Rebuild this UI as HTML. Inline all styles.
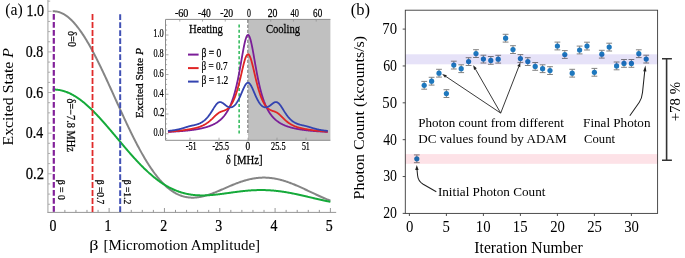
<!DOCTYPE html><html><head><meta charset="utf-8"><style>html,body{margin:0;padding:0;background:#fff;overflow:hidden}svg{display:block;will-change:transform}text{font-family:"Liberation Serif",serif}</style></head><body>
<svg width="685" height="258" viewBox="0 0 685 258">
<line x1="47.9" y1="0" x2="47.9" y2="212.8" stroke="#b0b0b0" stroke-width="1.2"/>
<line x1="47.5" y1="212.4" x2="336.2" y2="212.4" stroke="#969696" stroke-width="1"/>
<line x1="48" y1="204.25" x2="50.2" y2="204.25" stroke="#a0a0a0" stroke-width="0.8"/>
<line x1="48" y1="194.09" x2="50.2" y2="194.09" stroke="#a0a0a0" stroke-width="0.8"/>
<line x1="48" y1="183.94" x2="50.2" y2="183.94" stroke="#a0a0a0" stroke-width="0.8"/>
<line x1="48" y1="173.78" x2="51.6" y2="173.78" stroke="#a0a0a0" stroke-width="0.8"/>
<line x1="48" y1="163.62" x2="50.2" y2="163.62" stroke="#a0a0a0" stroke-width="0.8"/>
<line x1="48" y1="153.47" x2="50.2" y2="153.47" stroke="#a0a0a0" stroke-width="0.8"/>
<line x1="48" y1="143.31" x2="50.2" y2="143.31" stroke="#a0a0a0" stroke-width="0.8"/>
<line x1="48" y1="133.16" x2="51.6" y2="133.16" stroke="#a0a0a0" stroke-width="0.8"/>
<line x1="48" y1="123.01" x2="50.2" y2="123.01" stroke="#a0a0a0" stroke-width="0.8"/>
<line x1="48" y1="112.85" x2="50.2" y2="112.85" stroke="#a0a0a0" stroke-width="0.8"/>
<line x1="48" y1="102.69" x2="50.2" y2="102.69" stroke="#a0a0a0" stroke-width="0.8"/>
<line x1="48" y1="92.54" x2="51.6" y2="92.54" stroke="#a0a0a0" stroke-width="0.8"/>
<line x1="48" y1="82.38" x2="50.2" y2="82.38" stroke="#a0a0a0" stroke-width="0.8"/>
<line x1="48" y1="72.23" x2="50.2" y2="72.23" stroke="#a0a0a0" stroke-width="0.8"/>
<line x1="48" y1="62.08" x2="50.2" y2="62.08" stroke="#a0a0a0" stroke-width="0.8"/>
<line x1="48" y1="51.92" x2="51.6" y2="51.92" stroke="#a0a0a0" stroke-width="0.8"/>
<line x1="48" y1="41.76" x2="50.2" y2="41.76" stroke="#a0a0a0" stroke-width="0.8"/>
<line x1="48" y1="31.61" x2="50.2" y2="31.61" stroke="#a0a0a0" stroke-width="0.8"/>
<line x1="48" y1="21.45" x2="50.2" y2="21.45" stroke="#a0a0a0" stroke-width="0.8"/>
<line x1="48" y1="11.30" x2="51.6" y2="11.30" stroke="#a0a0a0" stroke-width="0.8"/>
<line x1="48" y1="1.15" x2="50.2" y2="1.15" stroke="#a0a0a0" stroke-width="0.8"/>
<line x1="53.80" y1="212.3" x2="53.80" y2="208.0" stroke="#8c8c8c" stroke-width="0.9"/>
<line x1="64.86" y1="212.3" x2="64.86" y2="209.9" stroke="#8c8c8c" stroke-width="0.9"/>
<line x1="75.93" y1="212.3" x2="75.93" y2="209.9" stroke="#8c8c8c" stroke-width="0.9"/>
<line x1="86.99" y1="212.3" x2="86.99" y2="209.9" stroke="#8c8c8c" stroke-width="0.9"/>
<line x1="98.06" y1="212.3" x2="98.06" y2="209.9" stroke="#8c8c8c" stroke-width="0.9"/>
<line x1="109.12" y1="212.3" x2="109.12" y2="208.0" stroke="#8c8c8c" stroke-width="0.9"/>
<line x1="120.18" y1="212.3" x2="120.18" y2="209.9" stroke="#8c8c8c" stroke-width="0.9"/>
<line x1="131.25" y1="212.3" x2="131.25" y2="209.9" stroke="#8c8c8c" stroke-width="0.9"/>
<line x1="142.31" y1="212.3" x2="142.31" y2="209.9" stroke="#8c8c8c" stroke-width="0.9"/>
<line x1="153.38" y1="212.3" x2="153.38" y2="209.9" stroke="#8c8c8c" stroke-width="0.9"/>
<line x1="164.44" y1="212.3" x2="164.44" y2="208.0" stroke="#8c8c8c" stroke-width="0.9"/>
<line x1="175.50" y1="212.3" x2="175.50" y2="209.9" stroke="#8c8c8c" stroke-width="0.9"/>
<line x1="186.57" y1="212.3" x2="186.57" y2="209.9" stroke="#8c8c8c" stroke-width="0.9"/>
<line x1="197.63" y1="212.3" x2="197.63" y2="209.9" stroke="#8c8c8c" stroke-width="0.9"/>
<line x1="208.70" y1="212.3" x2="208.70" y2="209.9" stroke="#8c8c8c" stroke-width="0.9"/>
<line x1="219.76" y1="212.3" x2="219.76" y2="208.0" stroke="#8c8c8c" stroke-width="0.9"/>
<line x1="230.82" y1="212.3" x2="230.82" y2="209.9" stroke="#8c8c8c" stroke-width="0.9"/>
<line x1="241.89" y1="212.3" x2="241.89" y2="209.9" stroke="#8c8c8c" stroke-width="0.9"/>
<line x1="252.95" y1="212.3" x2="252.95" y2="209.9" stroke="#8c8c8c" stroke-width="0.9"/>
<line x1="264.02" y1="212.3" x2="264.02" y2="209.9" stroke="#8c8c8c" stroke-width="0.9"/>
<line x1="275.08" y1="212.3" x2="275.08" y2="208.0" stroke="#8c8c8c" stroke-width="0.9"/>
<line x1="286.14" y1="212.3" x2="286.14" y2="209.9" stroke="#8c8c8c" stroke-width="0.9"/>
<line x1="297.21" y1="212.3" x2="297.21" y2="209.9" stroke="#8c8c8c" stroke-width="0.9"/>
<line x1="308.27" y1="212.3" x2="308.27" y2="209.9" stroke="#8c8c8c" stroke-width="0.9"/>
<line x1="319.34" y1="212.3" x2="319.34" y2="209.9" stroke="#8c8c8c" stroke-width="0.9"/>
<line x1="330.40" y1="212.3" x2="330.40" y2="208.0" stroke="#8c8c8c" stroke-width="0.9"/>
<path d="M52.69,11.34 L53.25,11.31 L53.81,11.30 L54.36,11.31 L54.92,11.34 L55.48,11.38 L56.03,11.44 L56.59,11.52 L57.15,11.62 L57.70,11.74 L58.26,11.87 L58.82,12.03 L59.37,12.19 L59.93,12.38 L60.48,12.59 L61.04,12.81 L61.60,13.05 L62.15,13.31 L62.71,13.58 L63.27,13.87 L63.82,14.18 L64.38,14.51 L64.94,14.86 L65.49,15.22 L66.05,15.59 L66.61,15.99 L67.16,16.40 L67.72,16.83 L68.28,17.28 L68.83,17.74 L69.39,18.22 L69.95,18.71 L70.50,19.22 L71.06,19.75 L71.62,20.29 L72.17,20.85 L72.73,21.43 L73.29,22.02 L73.84,22.63 L74.40,23.25 L74.95,23.88 L75.51,24.54 L76.07,25.20 L76.62,25.89 L77.18,26.58 L77.74,27.29 L78.29,28.02 L78.85,28.76 L79.41,29.51 L79.96,30.28 L80.52,31.06 L81.08,31.86 L81.63,32.67 L82.19,33.49 L82.75,34.33 L83.30,35.17 L83.86,36.03 L84.42,36.91 L84.97,37.79 L85.53,38.69 L86.09,39.60 L86.64,40.52 L87.20,41.46 L87.75,42.40 L88.31,43.36 L88.87,44.32 L89.42,45.30 L89.98,46.29 L90.54,47.29 L91.09,48.29 L91.65,49.31 L92.21,50.34 L92.76,51.38 L93.32,52.43 L93.88,53.48 L94.43,54.55 L94.99,55.62 L95.55,56.70 L96.10,57.79 L96.66,58.89 L97.22,60.00 L97.77,61.11 L98.33,62.23 L98.89,63.36 L99.44,64.49 L100.00,65.63 L100.55,66.78 L101.11,67.93 L101.67,69.09 L102.22,70.26 L102.78,71.43 L103.34,72.61 L103.89,73.79 L104.45,74.97 L105.01,76.16 L105.56,77.36 L106.12,78.55 L106.68,79.76 L107.23,80.96 L107.79,82.17 L108.35,83.38 L108.90,84.60 L109.46,85.81 L110.02,87.03 L110.57,88.25 L111.13,89.48 L111.69,90.70 L112.24,91.93 L112.80,93.16 L113.35,94.39 L113.91,95.62 L114.47,96.85 L115.02,98.08 L115.58,99.30 L116.14,100.53 L116.69,101.76 L117.25,102.99 L117.81,104.22 L118.36,105.45 L118.92,106.67 L119.48,107.89 L120.03,109.12 L120.59,110.34 L121.15,111.55 L121.70,112.77 L122.26,113.98 L122.82,115.19 L123.37,116.40 L123.93,117.60 L124.49,118.80 L125.04,119.99 L125.60,121.18 L126.16,122.37 L126.71,123.55 L127.27,124.73 L127.82,125.90 L128.38,127.07 L128.94,128.24 L129.49,129.39 L130.05,130.55 L130.61,131.69 L131.16,132.83 L131.72,133.97 L132.28,135.09 L132.83,136.22 L133.39,137.33 L133.95,138.44 L134.50,139.54 L135.06,140.63 L135.62,141.72 L136.17,142.80 L136.73,143.87 L137.29,144.93 L137.84,145.99 L138.40,147.03 L138.96,148.07 L139.51,149.10 L140.07,150.12 L140.62,151.13 L141.18,152.14 L141.74,153.13 L142.29,154.12 L142.85,155.09 L143.41,156.06 L143.96,157.02 L144.52,157.97 L145.08,158.90 L145.63,159.83 L146.19,160.75 L146.75,161.66 L147.30,162.55 L147.86,163.44 L148.42,164.32 L148.97,165.18 L149.53,166.04 L150.09,166.88 L150.64,167.72 L151.20,168.54 L151.76,169.35 L152.31,170.15 L152.87,170.94 L153.42,171.72 L153.98,172.49 L154.54,173.24 L155.09,173.99 L155.65,174.72 L156.21,175.44 L156.76,176.15 L157.32,176.85 L157.88,177.54 L158.43,178.21 L158.99,178.88 L159.55,179.53 L160.10,180.17 L160.66,180.79 L161.22,181.41 L161.77,182.01 L162.33,182.61 L162.89,183.19 L163.44,183.76 L164.00,184.31 L164.56,184.86 L165.11,185.39 L165.67,185.91 L166.22,186.42 L166.78,186.91 L167.34,187.40 L167.89,187.87 L168.45,188.33 L169.01,188.78 L169.56,189.22 L170.12,189.65 L170.68,190.06 L171.23,190.46 L171.79,190.85 L172.35,191.23 L172.90,191.60 L173.46,191.95 L174.02,192.30 L174.57,192.63 L175.13,192.95 L175.69,193.26 L176.24,193.56 L176.80,193.85 L177.36,194.12 L177.91,194.39 L178.47,194.64 L179.02,194.89 L179.58,195.12 L180.14,195.34 L180.69,195.55 L181.25,195.75 L181.81,195.94 L182.36,196.12 L182.92,196.29 L183.48,196.44 L184.03,196.59 L184.59,196.73 L185.15,196.86 L185.70,196.97 L186.26,197.08 L186.82,197.18 L187.37,197.27 L187.93,197.35 L188.49,197.42 L189.04,197.48 L189.60,197.53 L190.16,197.57 L190.71,197.61 L191.27,197.63 L191.83,197.65 L192.38,197.66 L192.94,197.66 L193.49,197.65 L194.05,197.63 L194.61,197.61 L195.16,197.57 L195.72,197.53 L196.28,197.48 L196.83,197.43 L197.39,197.36 L197.95,197.29 L198.50,197.22 L199.06,197.13 L199.62,197.04 L200.17,196.94 L200.73,196.84 L201.29,196.73 L201.84,196.61 L202.40,196.49 L202.96,196.36 L203.51,196.23 L204.07,196.09 L204.63,195.94 L205.18,195.79 L205.74,195.63 L206.29,195.47 L206.85,195.31 L207.41,195.13 L207.96,194.96 L208.52,194.78 L209.08,194.60 L209.63,194.41 L210.19,194.22 L210.75,194.02 L211.30,193.82 L211.86,193.62 L212.42,193.41 L212.97,193.20 L213.53,192.99 L214.09,192.77 L214.64,192.56 L215.20,192.34 L215.76,192.11 L216.31,191.89 L216.87,191.66 L217.43,191.43 L217.98,191.20 L218.54,190.96 L219.09,190.73 L219.65,190.49 L220.21,190.26 L220.76,190.02 L221.32,189.78 L221.88,189.54 L222.43,189.30 L222.99,189.06 L223.55,188.81 L224.10,188.57 L224.66,188.33 L225.22,188.09 L225.77,187.85 L226.33,187.60 L226.89,187.36 L227.44,187.12 L228.00,186.88 L228.56,186.64 L229.11,186.40 L229.67,186.17 L230.23,185.93 L230.78,185.70 L231.34,185.46 L231.89,185.23 L232.45,185.00 L233.01,184.77 L233.56,184.54 L234.12,184.32 L234.68,184.10 L235.23,183.88 L235.79,183.66 L236.35,183.44 L236.90,183.23 L237.46,183.02 L238.02,182.82 L238.57,182.61 L239.13,182.41 L239.69,182.21 L240.24,182.02 L240.80,181.82 L241.36,181.64 L241.91,181.45 L242.47,181.27 L243.03,181.09 L243.58,180.92 L244.14,180.75 L244.70,180.58 L245.25,180.42 L245.81,180.26 L246.36,180.10 L246.92,179.95 L247.48,179.81 L248.03,179.66 L248.59,179.53 L249.15,179.39 L249.70,179.26 L250.26,179.14 L250.82,179.02 L251.37,178.90 L251.93,178.79 L252.49,178.69 L253.04,178.59 L253.60,178.49 L254.16,178.40 L254.71,178.31 L255.27,178.23 L255.83,178.15 L256.38,178.08 L256.94,178.01 L257.50,177.95 L258.05,177.89 L258.61,177.84 L259.16,177.80 L259.72,177.75 L260.28,177.72 L260.83,177.69 L261.39,177.66 L261.95,177.64 L262.50,177.62 L263.06,177.61 L263.62,177.61 L264.17,177.61 L264.73,177.61 L265.29,177.62 L265.84,177.64 L266.40,177.66 L266.96,177.68 L267.51,177.71 L268.07,177.75 L268.63,177.79 L269.18,177.84 L269.74,177.89 L270.30,177.94 L270.85,178.00 L271.41,178.07 L271.96,178.14 L272.52,178.22 L273.08,178.30 L273.63,178.38 L274.19,178.48 L274.75,178.57 L275.30,178.67 L275.86,178.78 L276.42,178.89 L276.97,179.00 L277.53,179.12 L278.09,179.24 L278.64,179.37 L279.20,179.50 L279.76,179.64 L280.31,179.78 L280.87,179.92 L281.43,180.07 L281.98,180.23 L282.54,180.39 L283.10,180.55 L283.65,180.71 L284.21,180.88 L284.76,181.06 L285.32,181.23 L285.88,181.41 L286.43,181.60 L286.99,181.79 L287.55,181.98 L288.10,182.17 L288.66,182.37 L289.22,182.57 L289.77,182.78 L290.33,182.99 L290.89,183.20 L291.44,183.41 L292.00,183.63 L292.56,183.85 L293.11,184.07 L293.67,184.30 L294.23,184.53 L294.78,184.76 L295.34,184.99 L295.90,185.22 L296.45,185.46 L297.01,185.70 L297.56,185.94 L298.12,186.18 L298.68,186.43 L299.23,186.68 L299.79,186.93 L300.35,187.18 L300.90,187.43 L301.46,187.68 L302.02,187.94 L302.57,188.19 L303.13,188.45 L303.69,188.71 L304.24,188.97 L304.80,189.23 L305.36,189.49 L305.91,189.75 L306.47,190.01 L307.03,190.27 L307.58,190.54 L308.14,190.80 L308.70,191.06 L309.25,191.33 L309.81,191.59 L310.37,191.85 L310.92,192.12 L311.48,192.38 L312.03,192.65 L312.59,192.91 L313.15,193.17 L313.70,193.43 L314.26,193.70 L314.82,193.96 L315.37,194.22 L315.93,194.48 L316.49,194.73 L317.04,194.99 L317.60,195.25 L318.16,195.50 L318.71,195.76 L319.27,196.01 L319.83,196.26 L320.38,196.51 L320.94,196.75 L321.50,197.00 L322.05,197.25 L322.61,197.49 L323.17,197.73 L323.72,197.97 L324.28,198.20 L324.83,198.44 L325.39,198.67 L325.95,198.90 L326.50,199.13 L327.06,199.35 L327.62,199.58 L328.17,199.80 L328.73,200.01 L329.29,200.23 L329.84,200.44 L330.40,200.65" fill="none" stroke="#858585" stroke-width="2"/>
<path d="M52.69,89.59 L53.25,89.58 L53.81,89.57 L54.36,89.58 L54.92,89.59 L55.48,89.62 L56.03,89.65 L56.59,89.69 L57.15,89.74 L57.70,89.80 L58.26,89.88 L58.82,89.95 L59.37,90.04 L59.93,90.14 L60.48,90.25 L61.04,90.37 L61.60,90.49 L62.15,90.63 L62.71,90.77 L63.27,90.92 L63.82,91.09 L64.38,91.26 L64.94,91.44 L65.49,91.63 L66.05,91.83 L66.61,92.03 L67.16,92.25 L67.72,92.48 L68.28,92.71 L68.83,92.95 L69.39,93.20 L69.95,93.46 L70.50,93.73 L71.06,94.01 L71.62,94.29 L72.17,94.59 L72.73,94.89 L73.29,95.20 L73.84,95.52 L74.40,95.85 L74.95,96.18 L75.51,96.52 L76.07,96.87 L76.62,97.23 L77.18,97.60 L77.74,97.97 L78.29,98.36 L78.85,98.75 L79.41,99.14 L79.96,99.55 L80.52,99.96 L81.08,100.38 L81.63,100.80 L82.19,101.24 L82.75,101.68 L83.30,102.12 L83.86,102.58 L84.42,103.04 L84.97,103.51 L85.53,103.98 L86.09,104.46 L86.64,104.95 L87.20,105.44 L87.75,105.94 L88.31,106.44 L88.87,106.95 L89.42,107.47 L89.98,107.99 L90.54,108.52 L91.09,109.05 L91.65,109.59 L92.21,110.14 L92.76,110.69 L93.32,111.24 L93.88,111.80 L94.43,112.37 L94.99,112.94 L95.55,113.51 L96.10,114.09 L96.66,114.67 L97.22,115.26 L97.77,115.85 L98.33,116.45 L98.89,117.04 L99.44,117.65 L100.00,118.26 L100.55,118.87 L101.11,119.48 L101.67,120.10 L102.22,120.72 L102.78,121.34 L103.34,121.97 L103.89,122.60 L104.45,123.23 L105.01,123.87 L105.56,124.51 L106.12,125.15 L106.68,125.79 L107.23,126.44 L107.79,127.08 L108.35,127.73 L108.90,128.38 L109.46,129.04 L110.02,129.69 L110.57,130.35 L111.13,131.00 L111.69,131.66 L112.24,132.32 L112.80,132.98 L113.35,133.65 L113.91,134.31 L114.47,134.97 L115.02,135.63 L115.58,136.30 L116.14,136.96 L116.69,137.63 L117.25,138.29 L117.81,138.96 L118.36,139.62 L118.92,140.29 L119.48,140.95 L120.03,141.61 L120.59,142.27 L121.15,142.94 L121.70,143.60 L122.26,144.26 L122.82,144.92 L123.37,145.57 L123.93,146.23 L124.49,146.89 L125.04,147.54 L125.60,148.19 L126.16,148.84 L126.71,149.49 L127.27,150.14 L127.82,150.78 L128.38,151.43 L128.94,152.07 L129.49,152.70 L130.05,153.34 L130.61,153.97 L131.16,154.60 L131.72,155.23 L132.28,155.86 L132.83,156.48 L133.39,157.10 L133.95,157.71 L134.50,158.33 L135.06,158.94 L135.62,159.54 L136.17,160.14 L136.73,160.74 L137.29,161.34 L137.84,161.93 L138.40,162.52 L138.96,163.10 L139.51,163.68 L140.07,164.26 L140.62,164.83 L141.18,165.40 L141.74,165.96 L142.29,166.52 L142.85,167.08 L143.41,167.63 L143.96,168.18 L144.52,168.72 L145.08,169.26 L145.63,169.79 L146.19,170.32 L146.75,170.84 L147.30,171.36 L147.86,171.87 L148.42,172.38 L148.97,172.88 L149.53,173.38 L150.09,173.87 L150.64,174.36 L151.20,174.84 L151.76,175.32 L152.31,175.79 L152.87,176.26 L153.42,176.72 L153.98,177.17 L154.54,177.62 L155.09,178.07 L155.65,178.51 L156.21,178.94 L156.76,179.37 L157.32,179.79 L157.88,180.20 L158.43,180.61 L158.99,181.02 L159.55,181.42 L160.10,181.81 L160.66,182.20 L161.22,182.58 L161.77,182.96 L162.33,183.33 L162.89,183.69 L163.44,184.05 L164.00,184.40 L164.56,184.75 L165.11,185.09 L165.67,185.42 L166.22,185.75 L166.78,186.07 L167.34,186.39 L167.89,186.70 L168.45,187.01 L169.01,187.31 L169.56,187.60 L170.12,187.89 L170.68,188.17 L171.23,188.44 L171.79,188.71 L172.35,188.98 L172.90,189.24 L173.46,189.49 L174.02,189.73 L174.57,189.97 L175.13,190.21 L175.69,190.44 L176.24,190.66 L176.80,190.88 L177.36,191.09 L177.91,191.30 L178.47,191.50 L179.02,191.69 L179.58,191.88 L180.14,192.07 L180.69,192.25 L181.25,192.42 L181.81,192.59 L182.36,192.75 L182.92,192.91 L183.48,193.06 L184.03,193.20 L184.59,193.34 L185.15,193.48 L185.70,193.61 L186.26,193.74 L186.82,193.86 L187.37,193.97 L187.93,194.08 L188.49,194.19 L189.04,194.29 L189.60,194.39 L190.16,194.48 L190.71,194.56 L191.27,194.65 L191.83,194.72 L192.38,194.80 L192.94,194.87 L193.49,194.93 L194.05,194.99 L194.61,195.04 L195.16,195.10 L195.72,195.14 L196.28,195.19 L196.83,195.23 L197.39,195.26 L197.95,195.29 L198.50,195.32 L199.06,195.34 L199.62,195.36 L200.17,195.38 L200.73,195.39 L201.29,195.40 L201.84,195.40 L202.40,195.41 L202.96,195.40 L203.51,195.40 L204.07,195.39 L204.63,195.38 L205.18,195.37 L205.74,195.35 L206.29,195.33 L206.85,195.31 L207.41,195.28 L207.96,195.25 L208.52,195.22 L209.08,195.19 L209.63,195.15 L210.19,195.12 L210.75,195.08 L211.30,195.03 L211.86,194.99 L212.42,194.94 L212.97,194.89 L213.53,194.84 L214.09,194.79 L214.64,194.73 L215.20,194.68 L215.76,194.62 L216.31,194.56 L216.87,194.50 L217.43,194.43 L217.98,194.37 L218.54,194.30 L219.09,194.24 L219.65,194.17 L220.21,194.10 L220.76,194.03 L221.32,193.96 L221.88,193.88 L222.43,193.81 L222.99,193.74 L223.55,193.66 L224.10,193.59 L224.66,193.51 L225.22,193.44 L225.77,193.36 L226.33,193.28 L226.89,193.21 L227.44,193.13 L228.00,193.05 L228.56,192.97 L229.11,192.89 L229.67,192.82 L230.23,192.74 L230.78,192.66 L231.34,192.58 L231.89,192.51 L232.45,192.43 L233.01,192.35 L233.56,192.28 L234.12,192.20 L234.68,192.13 L235.23,192.05 L235.79,191.98 L236.35,191.90 L236.90,191.83 L237.46,191.76 L238.02,191.69 L238.57,191.62 L239.13,191.55 L239.69,191.48 L240.24,191.42 L240.80,191.35 L241.36,191.29 L241.91,191.22 L242.47,191.16 L243.03,191.10 L243.58,191.04 L244.14,190.98 L244.70,190.93 L245.25,190.87 L245.81,190.82 L246.36,190.77 L246.92,190.72 L247.48,190.67 L248.03,190.62 L248.59,190.58 L249.15,190.53 L249.70,190.49 L250.26,190.45 L250.82,190.41 L251.37,190.37 L251.93,190.34 L252.49,190.31 L253.04,190.28 L253.60,190.25 L254.16,190.22 L254.71,190.19 L255.27,190.17 L255.83,190.15 L256.38,190.13 L256.94,190.11 L257.50,190.10 L258.05,190.09 L258.61,190.08 L259.16,190.07 L259.72,190.06 L260.28,190.06 L260.83,190.06 L261.39,190.06 L261.95,190.06 L262.50,190.06 L263.06,190.07 L263.62,190.08 L264.17,190.09 L264.73,190.10 L265.29,190.12 L265.84,190.14 L266.40,190.16 L266.96,190.18 L267.51,190.20 L268.07,190.23 L268.63,190.26 L269.18,190.29 L269.74,190.32 L270.30,190.36 L270.85,190.40 L271.41,190.44 L271.96,190.48 L272.52,190.52 L273.08,190.57 L273.63,190.62 L274.19,190.67 L274.75,190.72 L275.30,190.78 L275.86,190.83 L276.42,190.89 L276.97,190.95 L277.53,191.02 L278.09,191.08 L278.64,191.15 L279.20,191.22 L279.76,191.29 L280.31,191.36 L280.87,191.44 L281.43,191.51 L281.98,191.59 L282.54,191.67 L283.10,191.76 L283.65,191.84 L284.21,191.93 L284.76,192.01 L285.32,192.10 L285.88,192.19 L286.43,192.29 L286.99,192.38 L287.55,192.48 L288.10,192.58 L288.66,192.68 L289.22,192.78 L289.77,192.88 L290.33,192.98 L290.89,193.09 L291.44,193.19 L292.00,193.30 L292.56,193.41 L293.11,193.52 L293.67,193.63 L294.23,193.75 L294.78,193.86 L295.34,193.98 L295.90,194.09 L296.45,194.21 L297.01,194.33 L297.56,194.45 L298.12,194.57 L298.68,194.69 L299.23,194.81 L299.79,194.93 L300.35,195.06 L300.90,195.18 L301.46,195.31 L302.02,195.43 L302.57,195.56 L303.13,195.69 L303.69,195.82 L304.24,195.94 L304.80,196.07 L305.36,196.20 L305.91,196.33 L306.47,196.46 L307.03,196.59 L307.58,196.72 L308.14,196.85 L308.70,196.98 L309.25,197.11 L309.81,197.25 L310.37,197.38 L310.92,197.51 L311.48,197.64 L312.03,197.77 L312.59,197.90 L313.15,198.03 L313.70,198.16 L314.26,198.29 L314.82,198.42 L315.37,198.56 L315.93,198.68 L316.49,198.81 L317.04,198.94 L317.60,199.07 L318.16,199.20 L318.71,199.33 L319.27,199.46 L319.83,199.58 L320.38,199.71 L320.94,199.83 L321.50,199.96 L322.05,200.08 L322.61,200.20 L323.17,200.33 L323.72,200.45 L324.28,200.57 L324.83,200.69 L325.39,200.81 L325.95,200.93 L326.50,201.04 L327.06,201.16 L327.62,201.27 L328.17,201.39 L328.73,201.50 L329.29,201.61 L329.84,201.72 L330.40,201.83" fill="none" stroke="#15aa3a" stroke-width="2"/>
<line x1="53.80" y1="13.9" x2="53.80" y2="212.3" stroke="#82219a" stroke-width="2.2" stroke-dasharray="5.8 2.2"/>
<line x1="92.52" y1="14.1" x2="92.52" y2="212.3" stroke="#e02a2a" stroke-width="1.8" stroke-dasharray="5.8 2.2"/>
<line x1="120.18" y1="14.3" x2="120.18" y2="212.3" stroke="#4151b4" stroke-width="2.0" stroke-dasharray="5.8 2.2"/>
<rect x="165.5" y="19.4" width="164.89999999999998" height="120.9" fill="#fff"/>
<rect x="248.00" y="19.4" width="82.40" height="120.9" fill="#c0c0c0"/>
<path d="M330.4,19.4 H165.5 V140.3 H330.4" fill="none" stroke="#8c8c8c" stroke-width="1"/>
<line x1="165.5" y1="138.74" x2="167.1" y2="138.74" stroke="#8c8c8c" stroke-width="0.7"/>
<line x1="165.5" y1="133.80" x2="168.5" y2="133.80" stroke="#8c8c8c" stroke-width="0.7"/>
<line x1="165.5" y1="128.86" x2="167.1" y2="128.86" stroke="#8c8c8c" stroke-width="0.7"/>
<line x1="165.5" y1="123.92" x2="167.1" y2="123.92" stroke="#8c8c8c" stroke-width="0.7"/>
<line x1="165.5" y1="118.98" x2="167.1" y2="118.98" stroke="#8c8c8c" stroke-width="0.7"/>
<line x1="165.5" y1="114.04" x2="168.5" y2="114.04" stroke="#8c8c8c" stroke-width="0.7"/>
<line x1="165.5" y1="109.10" x2="167.1" y2="109.10" stroke="#8c8c8c" stroke-width="0.7"/>
<line x1="165.5" y1="104.16" x2="167.1" y2="104.16" stroke="#8c8c8c" stroke-width="0.7"/>
<line x1="165.5" y1="99.22" x2="167.1" y2="99.22" stroke="#8c8c8c" stroke-width="0.7"/>
<line x1="165.5" y1="94.28" x2="168.5" y2="94.28" stroke="#8c8c8c" stroke-width="0.7"/>
<line x1="165.5" y1="89.34" x2="167.1" y2="89.34" stroke="#8c8c8c" stroke-width="0.7"/>
<line x1="165.5" y1="84.40" x2="167.1" y2="84.40" stroke="#8c8c8c" stroke-width="0.7"/>
<line x1="165.5" y1="79.46" x2="167.1" y2="79.46" stroke="#8c8c8c" stroke-width="0.7"/>
<line x1="165.5" y1="74.52" x2="168.5" y2="74.52" stroke="#8c8c8c" stroke-width="0.7"/>
<line x1="165.5" y1="69.58" x2="167.1" y2="69.58" stroke="#8c8c8c" stroke-width="0.7"/>
<line x1="165.5" y1="64.64" x2="167.1" y2="64.64" stroke="#8c8c8c" stroke-width="0.7"/>
<line x1="165.5" y1="59.70" x2="167.1" y2="59.70" stroke="#8c8c8c" stroke-width="0.7"/>
<line x1="165.5" y1="54.76" x2="168.5" y2="54.76" stroke="#8c8c8c" stroke-width="0.7"/>
<line x1="165.5" y1="49.82" x2="167.1" y2="49.82" stroke="#8c8c8c" stroke-width="0.7"/>
<line x1="165.5" y1="44.88" x2="167.1" y2="44.88" stroke="#8c8c8c" stroke-width="0.7"/>
<line x1="165.5" y1="39.94" x2="167.1" y2="39.94" stroke="#8c8c8c" stroke-width="0.7"/>
<line x1="165.5" y1="35.00" x2="168.5" y2="35.00" stroke="#8c8c8c" stroke-width="0.7"/>
<line x1="165.5" y1="30.06" x2="167.1" y2="30.06" stroke="#8c8c8c" stroke-width="0.7"/>
<line x1="165.5" y1="25.12" x2="167.1" y2="25.12" stroke="#8c8c8c" stroke-width="0.7"/>
<line x1="179.78" y1="19.4" x2="179.78" y2="21.599999999999998" stroke="#8c8c8c" stroke-width="0.7"/>
<line x1="202.52" y1="19.4" x2="202.52" y2="21.599999999999998" stroke="#8c8c8c" stroke-width="0.7"/>
<line x1="225.26" y1="19.4" x2="225.26" y2="21.599999999999998" stroke="#8c8c8c" stroke-width="0.7"/>
<line x1="248.00" y1="19.4" x2="248.00" y2="21.599999999999998" stroke="#8c8c8c" stroke-width="0.7"/>
<line x1="270.74" y1="19.4" x2="270.74" y2="21.599999999999998" stroke="#8c8c8c" stroke-width="0.7"/>
<line x1="293.48" y1="19.4" x2="293.48" y2="21.599999999999998" stroke="#8c8c8c" stroke-width="0.7"/>
<line x1="316.22" y1="19.4" x2="316.22" y2="21.599999999999998" stroke="#8c8c8c" stroke-width="0.7"/>
<line x1="190.01" y1="140.3" x2="190.01" y2="137.70000000000002" stroke="#8c8c8c" stroke-width="0.7"/>
<line x1="219.01" y1="140.3" x2="219.01" y2="137.70000000000002" stroke="#8c8c8c" stroke-width="0.7"/>
<line x1="248.00" y1="140.3" x2="248.00" y2="137.70000000000002" stroke="#8c8c8c" stroke-width="0.7"/>
<line x1="276.99" y1="140.3" x2="276.99" y2="137.70000000000002" stroke="#8c8c8c" stroke-width="0.7"/>
<line x1="305.99" y1="140.3" x2="305.99" y2="137.70000000000002" stroke="#8c8c8c" stroke-width="0.7"/>
<line x1="247.80" y1="19.7" x2="247.80" y2="134.9" stroke="#8a8a8a" stroke-width="1.3" stroke-dasharray="3.3 1.7"/>
<line x1="239.13" y1="24.4" x2="239.13" y2="134.9" stroke="#1bb24a" stroke-width="1.4" stroke-dasharray="3.1 2.2"/>
<path d="M167.96,131.90 L168.28,131.89 L168.60,131.87 L168.92,131.86 L169.24,131.84 L169.56,131.83 L169.88,131.81 L170.20,131.79 L170.52,131.78 L170.84,131.76 L171.16,131.74 L171.48,131.73 L171.80,131.71 L172.12,131.69 L172.44,131.68 L172.76,131.66 L173.08,131.64 L173.40,131.62 L173.72,131.60 L174.04,131.59 L174.36,131.57 L174.68,131.55 L175.00,131.53 L175.32,131.51 L175.64,131.49 L175.96,131.47 L176.28,131.45 L176.61,131.43 L176.93,131.41 L177.25,131.39 L177.57,131.36 L177.89,131.34 L178.21,131.32 L178.53,131.30 L178.85,131.27 L179.17,131.25 L179.49,131.23 L179.81,131.21 L180.13,131.18 L180.45,131.16 L180.77,131.13 L181.09,131.11 L181.41,131.08 L181.73,131.06 L182.05,131.03 L182.37,131.00 L182.69,130.98 L183.01,130.95 L183.33,130.92 L183.65,130.90 L183.97,130.87 L184.29,130.84 L184.61,130.81 L184.93,130.78 L185.25,130.75 L185.58,130.72 L185.90,130.69 L186.22,130.66 L186.54,130.63 L186.86,130.59 L187.18,130.56 L187.50,130.53 L187.82,130.49 L188.14,130.46 L188.46,130.42 L188.78,130.39 L189.10,130.35 L189.42,130.32 L189.74,130.28 L190.06,130.24 L190.38,130.20 L190.70,130.16 L191.02,130.12 L191.34,130.08 L191.66,130.04 L191.98,130.00 L192.30,129.96 L192.62,129.92 L192.94,129.87 L193.26,129.83 L193.58,129.78 L193.90,129.74 L194.23,129.69 L194.55,129.65 L194.87,129.60 L195.19,129.55 L195.51,129.50 L195.83,129.45 L196.15,129.40 L196.47,129.34 L196.79,129.29 L197.11,129.24 L197.43,129.18 L197.75,129.12 L198.07,129.07 L198.39,129.01 L198.71,128.95 L199.03,128.89 L199.35,128.83 L199.67,128.76 L199.99,128.70 L200.31,128.64 L200.63,128.57 L200.95,128.50 L201.27,128.43 L201.59,128.36 L201.91,128.29 L202.23,128.22 L202.55,128.14 L202.87,128.07 L203.20,127.99 L203.52,127.91 L203.84,127.83 L204.16,127.75 L204.48,127.66 L204.80,127.58 L205.12,127.49 L205.44,127.40 L205.76,127.31 L206.08,127.22 L206.40,127.12 L206.72,127.03 L207.04,126.93 L207.36,126.83 L207.68,126.72 L208.00,126.62 L208.32,126.51 L208.64,126.40 L208.96,126.29 L209.28,126.17 L209.60,126.05 L209.92,125.93 L210.24,125.81 L210.56,125.68 L210.88,125.56 L211.20,125.42 L211.52,125.29 L211.85,125.15 L212.17,125.01 L212.49,124.86 L212.81,124.71 L213.13,124.56 L213.45,124.41 L213.77,124.25 L214.09,124.08 L214.41,123.92 L214.73,123.74 L215.05,123.57 L215.37,123.39 L215.69,123.20 L216.01,123.01 L216.33,122.82 L216.65,122.62 L216.97,122.41 L217.29,122.20 L217.61,121.99 L217.93,121.76 L218.25,121.53 L218.57,121.30 L218.89,121.06 L219.21,120.81 L219.53,120.56 L219.85,120.30 L220.17,120.03 L220.50,119.75 L220.82,119.46 L221.14,119.17 L221.46,118.87 L221.78,118.56 L222.10,118.24 L222.42,117.91 L222.74,117.57 L223.06,117.22 L223.38,116.86 L223.70,116.49 L224.02,116.11 L224.34,115.72 L224.66,115.31 L224.98,114.89 L225.30,114.46 L225.62,114.01 L225.94,113.55 L226.26,113.08 L226.58,112.59 L226.90,112.08 L227.22,111.56 L227.54,111.02 L227.86,110.46 L228.18,109.88 L228.50,109.29 L228.82,108.67 L229.14,108.03 L229.47,107.38 L229.79,106.69 L230.11,105.99 L230.43,105.26 L230.75,104.51 L231.07,103.73 L231.39,102.93 L231.71,102.10 L232.03,101.23 L232.35,100.34 L232.67,99.42 L232.99,98.47 L233.31,97.48 L233.63,96.47 L233.95,95.41 L234.27,94.32 L234.59,93.20 L234.91,92.04 L235.23,90.84 L235.55,89.60 L235.87,88.32 L236.19,87.01 L236.51,85.65 L236.83,84.25 L237.15,82.82 L237.47,81.34 L237.79,79.82 L238.12,78.26 L238.44,76.67 L238.76,75.04 L239.08,73.37 L239.40,71.67 L239.72,69.93 L240.04,68.17 L240.36,66.39 L240.68,64.58 L241.00,62.76 L241.32,60.93 L241.64,59.10 L241.96,57.26 L242.28,55.44 L242.60,53.64 L242.92,51.86 L243.24,50.11 L243.56,48.41 L243.88,46.77 L244.20,45.19 L244.52,43.69 L244.84,42.27 L245.16,40.96 L245.48,39.75 L245.80,38.66 L246.12,37.70 L246.44,36.87 L246.77,36.19 L247.09,35.65 L247.41,35.28 L247.73,35.06 L248.05,35.00 L248.37,35.11 L248.69,35.37 L249.01,35.79 L249.33,36.37 L249.65,37.09 L249.97,37.96 L250.29,38.96 L250.61,40.09 L250.93,41.33 L251.25,42.67 L251.57,44.12 L251.89,45.64 L252.21,47.24 L252.53,48.90 L252.85,50.61 L253.17,52.37 L253.49,54.16 L253.81,55.97 L254.13,57.80 L254.45,59.63 L254.77,61.46 L255.09,63.29 L255.41,65.11 L255.74,66.91 L256.06,68.69 L256.38,70.44 L256.70,72.16 L257.02,73.86 L257.34,75.51 L257.66,77.14 L257.98,78.72 L258.30,80.27 L258.62,81.77 L258.94,83.24 L259.26,84.66 L259.58,86.05 L259.90,87.39 L260.22,88.70 L260.54,89.96 L260.86,91.19 L261.18,92.38 L261.50,93.53 L261.82,94.64 L262.14,95.72 L262.46,96.76 L262.78,97.77 L263.10,98.75 L263.42,99.69 L263.74,100.60 L264.06,101.49 L264.39,102.34 L264.71,103.16 L265.03,103.96 L265.35,104.73 L265.67,105.48 L265.99,106.20 L266.31,106.89 L266.63,107.57 L266.95,108.22 L267.27,108.85 L267.59,109.46 L267.91,110.05 L268.23,110.62 L268.55,111.18 L268.87,111.71 L269.19,112.23 L269.51,112.73 L269.83,113.22 L270.15,113.69 L270.47,114.14 L270.79,114.58 L271.11,115.01 L271.43,115.43 L271.75,115.83 L272.07,116.22 L272.39,116.60 L272.71,116.97 L273.03,117.32 L273.36,117.67 L273.68,118.01 L274.00,118.33 L274.32,118.65 L274.64,118.96 L274.96,119.26 L275.28,119.55 L275.60,119.83 L275.92,120.10 L276.24,120.37 L276.56,120.63 L276.88,120.88 L277.20,121.13 L277.52,121.37 L277.84,121.60 L278.16,121.83 L278.48,122.05 L278.80,122.26 L279.12,122.47 L279.44,122.68 L279.76,122.87 L280.08,123.07 L280.40,123.26 L280.72,123.44 L281.04,123.62 L281.36,123.80 L281.68,123.97 L282.01,124.13 L282.33,124.29 L282.65,124.45 L282.97,124.61 L283.29,124.76 L283.61,124.91 L283.93,125.05 L284.25,125.19 L284.57,125.33 L284.89,125.46 L285.21,125.59 L285.53,125.72 L285.85,125.85 L286.17,125.97 L286.49,126.09 L286.81,126.21 L287.13,126.32 L287.45,126.43 L287.77,126.54 L288.09,126.65 L288.41,126.75 L288.73,126.86 L289.05,126.96 L289.37,127.05 L289.69,127.15 L290.01,127.25 L290.33,127.34 L290.66,127.43 L290.98,127.52 L291.30,127.60 L291.62,127.69 L291.94,127.77 L292.26,127.85 L292.58,127.93 L292.90,128.01 L293.22,128.09 L293.54,128.17 L293.86,128.24 L294.18,128.31 L294.50,128.38 L294.82,128.45 L295.14,128.52 L295.46,128.59 L295.78,128.65 L296.10,128.72 L296.42,128.78 L296.74,128.85 L297.06,128.91 L297.38,128.97 L297.70,129.03 L298.02,129.08 L298.34,129.14 L298.66,129.20 L298.98,129.25 L299.30,129.31 L299.63,129.36 L299.95,129.41 L300.27,129.46 L300.59,129.51 L300.91,129.56 L301.23,129.61 L301.55,129.66 L301.87,129.71 L302.19,129.75 L302.51,129.80 L302.83,129.84 L303.15,129.89 L303.47,129.93 L303.79,129.97 L304.11,130.01 L304.43,130.06 L304.75,130.10 L305.07,130.14 L305.39,130.18 L305.71,130.21 L306.03,130.25 L306.35,130.29 L306.67,130.33 L306.99,130.36 L307.31,130.40 L307.63,130.43 L307.95,130.47 L308.28,130.50 L308.60,130.54 L308.92,130.57 L309.24,130.60 L309.56,130.63 L309.88,130.67 L310.20,130.70 L310.52,130.73 L310.84,130.76 L311.16,130.79 L311.48,130.82 L311.80,130.85 L312.12,130.88 L312.44,130.90 L312.76,130.93 L313.08,130.96 L313.40,130.99 L313.72,131.01 L314.04,131.04 L314.36,131.06 L314.68,131.09 L315.00,131.11 L315.32,131.14 L315.64,131.16 L315.96,131.19 L316.28,131.21 L316.60,131.24 L316.92,131.26 L317.25,131.28 L317.57,131.30 L317.89,131.33 L318.21,131.35 L318.53,131.37 L318.85,131.39 L319.17,131.41 L319.49,131.43 L319.81,131.45 L320.13,131.47 L320.45,131.49 L320.77,131.51 L321.09,131.53 L321.41,131.55 L321.73,131.57 L322.05,131.59 L322.37,131.61 L322.69,131.63 L323.01,131.65 L323.33,131.66 L323.65,131.68 L323.97,131.70 L324.29,131.72 L324.61,131.73 L324.93,131.75 L325.25,131.77 L325.57,131.78 L325.90,131.80 L326.22,131.82 L326.54,131.83 L326.86,131.85 L327.18,131.86 L327.50,131.88 L327.82,131.89" fill="none" stroke="#7b1e98" stroke-width="1.8"/>
<path d="M167.96,131.65 L168.28,131.63 L168.60,131.61 L168.92,131.59 L169.24,131.57 L169.56,131.55 L169.88,131.53 L170.20,131.50 L170.52,131.48 L170.84,131.46 L171.16,131.44 L171.48,131.41 L171.80,131.39 L172.12,131.37 L172.44,131.34 L172.76,131.32 L173.08,131.29 L173.40,131.27 L173.72,131.24 L174.04,131.21 L174.36,131.19 L174.68,131.16 L175.00,131.13 L175.32,131.10 L175.64,131.07 L175.96,131.04 L176.28,131.01 L176.61,130.98 L176.93,130.95 L177.25,130.92 L177.57,130.89 L177.89,130.86 L178.21,130.82 L178.53,130.79 L178.85,130.75 L179.17,130.72 L179.49,130.68 L179.81,130.65 L180.13,130.61 L180.45,130.57 L180.77,130.53 L181.09,130.49 L181.41,130.45 L181.73,130.41 L182.05,130.37 L182.37,130.33 L182.69,130.29 L183.01,130.24 L183.33,130.20 L183.65,130.16 L183.97,130.11 L184.29,130.06 L184.61,130.02 L184.93,129.97 L185.25,129.92 L185.58,129.87 L185.90,129.82 L186.22,129.77 L186.54,129.72 L186.86,129.67 L187.18,129.62 L187.50,129.57 L187.82,129.51 L188.14,129.46 L188.46,129.40 L188.78,129.35 L189.10,129.29 L189.42,129.24 L189.74,129.18 L190.06,129.12 L190.38,129.07 L190.70,129.01 L191.02,128.95 L191.34,128.89 L191.66,128.83 L191.98,128.77 L192.30,128.70 L192.62,128.64 L192.94,128.57 L193.26,128.51 L193.58,128.44 L193.90,128.37 L194.23,128.30 L194.55,128.23 L194.87,128.16 L195.19,128.08 L195.51,128.00 L195.83,127.92 L196.15,127.84 L196.47,127.76 L196.79,127.67 L197.11,127.59 L197.43,127.49 L197.75,127.40 L198.07,127.31 L198.39,127.21 L198.71,127.11 L199.03,127.00 L199.35,126.89 L199.67,126.78 L199.99,126.67 L200.31,126.55 L200.63,126.43 L200.95,126.31 L201.27,126.18 L201.59,126.05 L201.91,125.91 L202.23,125.77 L202.55,125.63 L202.87,125.48 L203.20,125.33 L203.52,125.17 L203.84,125.01 L204.16,124.84 L204.48,124.67 L204.80,124.49 L205.12,124.31 L205.44,124.12 L205.76,123.93 L206.08,123.73 L206.40,123.52 L206.72,123.31 L207.04,123.10 L207.36,122.87 L207.68,122.64 L208.00,122.41 L208.32,122.17 L208.64,121.92 L208.96,121.66 L209.28,121.40 L209.60,121.14 L209.92,120.86 L210.24,120.58 L210.56,120.30 L210.88,120.01 L211.20,119.71 L211.52,119.41 L211.85,119.11 L212.17,118.80 L212.49,118.49 L212.81,118.17 L213.13,117.85 L213.45,117.54 L213.77,117.22 L214.09,116.90 L214.41,116.58 L214.73,116.26 L215.05,115.95 L215.37,115.64 L215.69,115.33 L216.01,115.04 L216.33,114.75 L216.65,114.46 L216.97,114.19 L217.29,113.93 L217.61,113.67 L217.93,113.43 L218.25,113.20 L218.57,112.99 L218.89,112.78 L219.21,112.59 L219.53,112.41 L219.85,112.24 L220.17,112.08 L220.50,111.93 L220.82,111.79 L221.14,111.66 L221.46,111.54 L221.78,111.42 L222.10,111.31 L222.42,111.20 L222.74,111.09 L223.06,110.99 L223.38,110.88 L223.70,110.77 L224.02,110.66 L224.34,110.54 L224.66,110.41 L224.98,110.28 L225.30,110.14 L225.62,109.98 L225.94,109.82 L226.26,109.64 L226.58,109.45 L226.90,109.25 L227.22,109.02 L227.54,108.79 L227.86,108.53 L228.18,108.26 L228.50,107.97 L228.82,107.66 L229.14,107.33 L229.47,106.97 L229.79,106.60 L230.11,106.20 L230.43,105.78 L230.75,105.34 L231.07,104.87 L231.39,104.38 L231.71,103.86 L232.03,103.31 L232.35,102.74 L232.67,102.14 L232.99,101.51 L233.31,100.85 L233.63,100.16 L233.95,99.44 L234.27,98.69 L234.59,97.91 L234.91,97.09 L235.23,96.24 L235.55,95.36 L235.87,94.45 L236.19,93.50 L236.51,92.52 L236.83,91.50 L237.15,90.45 L237.47,89.37 L237.79,88.25 L238.12,87.09 L238.44,85.91 L238.76,84.70 L239.08,83.45 L239.40,82.18 L239.72,80.88 L240.04,79.55 L240.36,78.21 L240.68,76.84 L241.00,75.47 L241.32,74.08 L241.64,72.69 L241.96,71.30 L242.28,69.91 L242.60,68.53 L242.92,67.18 L243.24,65.85 L243.56,64.55 L243.88,63.29 L244.20,62.09 L244.52,60.94 L244.84,59.85 L245.16,58.85 L245.48,57.92 L245.80,57.08 L246.12,56.35 L246.44,55.71 L246.77,55.19 L247.09,54.78 L247.41,54.49 L247.73,54.32 L248.05,54.28 L248.37,54.36 L248.69,54.56 L249.01,54.89 L249.33,55.33 L249.65,55.89 L249.97,56.55 L250.29,57.32 L250.61,58.18 L250.93,59.13 L251.25,60.16 L251.57,61.26 L251.89,62.43 L252.21,63.65 L252.53,64.92 L252.85,66.23 L253.17,67.57 L253.49,68.93 L253.81,70.31 L254.13,71.70 L254.45,73.09 L254.77,74.48 L255.09,75.87 L255.41,77.24 L255.74,78.60 L256.06,79.94 L256.38,81.26 L256.70,82.55 L257.02,83.81 L257.34,85.05 L257.66,86.26 L257.98,87.43 L258.30,88.57 L258.62,89.68 L258.94,90.76 L259.26,91.80 L259.58,92.81 L259.90,93.78 L260.22,94.72 L260.54,95.62 L260.86,96.49 L261.18,97.33 L261.50,98.14 L261.82,98.91 L262.14,99.65 L262.46,100.36 L262.78,101.04 L263.10,101.69 L263.42,102.31 L263.74,102.91 L264.06,103.47 L264.39,104.01 L264.71,104.52 L265.03,105.01 L265.35,105.47 L265.67,105.91 L265.99,106.32 L266.31,106.71 L266.63,107.08 L266.95,107.42 L267.27,107.75 L267.59,108.06 L267.91,108.34 L268.23,108.61 L268.55,108.86 L268.87,109.09 L269.19,109.31 L269.51,109.51 L269.83,109.69 L270.15,109.87 L270.47,110.03 L270.79,110.18 L271.11,110.32 L271.43,110.45 L271.75,110.57 L272.07,110.69 L272.39,110.80 L272.71,110.91 L273.03,111.02 L273.36,111.12 L273.68,111.23 L274.00,111.34 L274.32,111.45 L274.64,111.57 L274.96,111.70 L275.28,111.83 L275.60,111.97 L275.92,112.12 L276.24,112.28 L276.56,112.46 L276.88,112.64 L277.20,112.84 L277.52,113.05 L277.84,113.27 L278.16,113.50 L278.48,113.75 L278.80,114.00 L279.12,114.27 L279.44,114.54 L279.76,114.83 L280.08,115.12 L280.40,115.42 L280.72,115.73 L281.04,116.04 L281.36,116.35 L281.68,116.67 L282.01,116.99 L282.33,117.31 L282.65,117.63 L282.97,117.95 L283.29,118.26 L283.61,118.58 L283.93,118.89 L284.25,119.20 L284.57,119.50 L284.89,119.80 L285.21,120.09 L285.53,120.38 L285.85,120.67 L286.17,120.94 L286.49,121.21 L286.81,121.48 L287.13,121.74 L287.45,121.99 L287.77,122.24 L288.09,122.48 L288.41,122.71 L288.73,122.94 L289.05,123.16 L289.37,123.37 L289.69,123.58 L290.01,123.79 L290.33,123.98 L290.66,124.18 L290.98,124.36 L291.30,124.54 L291.62,124.72 L291.94,124.89 L292.26,125.06 L292.58,125.22 L292.90,125.37 L293.22,125.52 L293.54,125.67 L293.86,125.81 L294.18,125.95 L294.50,126.09 L294.82,126.22 L295.14,126.34 L295.46,126.47 L295.78,126.59 L296.10,126.70 L296.42,126.82 L296.74,126.93 L297.06,127.03 L297.38,127.14 L297.70,127.24 L298.02,127.33 L298.34,127.43 L298.66,127.52 L298.98,127.61 L299.30,127.70 L299.63,127.78 L299.95,127.87 L300.27,127.95 L300.59,128.03 L300.91,128.10 L301.23,128.18 L301.55,128.25 L301.87,128.32 L302.19,128.39 L302.51,128.46 L302.83,128.53 L303.15,128.59 L303.47,128.66 L303.79,128.72 L304.11,128.78 L304.43,128.85 L304.75,128.91 L305.07,128.97 L305.39,129.03 L305.71,129.08 L306.03,129.14 L306.35,129.20 L306.67,129.25 L306.99,129.31 L307.31,129.37 L307.63,129.42 L307.95,129.47 L308.28,129.53 L308.60,129.58 L308.92,129.63 L309.24,129.68 L309.56,129.74 L309.88,129.79 L310.20,129.84 L310.52,129.89 L310.84,129.93 L311.16,129.98 L311.48,130.03 L311.80,130.08 L312.12,130.12 L312.44,130.17 L312.76,130.21 L313.08,130.26 L313.40,130.30 L313.72,130.34 L314.04,130.38 L314.36,130.43 L314.68,130.47 L315.00,130.51 L315.32,130.54 L315.64,130.58 L315.96,130.62 L316.28,130.66 L316.60,130.69 L316.92,130.73 L317.25,130.76 L317.57,130.80 L317.89,130.83 L318.21,130.87 L318.53,130.90 L318.85,130.93 L319.17,130.96 L319.49,130.99 L319.81,131.02 L320.13,131.05 L320.45,131.08 L320.77,131.11 L321.09,131.14 L321.41,131.17 L321.73,131.19 L322.05,131.22 L322.37,131.25 L322.69,131.27 L323.01,131.30 L323.33,131.32 L323.65,131.35 L323.97,131.37 L324.29,131.40 L324.61,131.42 L324.93,131.44 L325.25,131.47 L325.57,131.49 L325.90,131.51 L326.22,131.53 L326.54,131.55 L326.86,131.57 L327.18,131.59 L327.50,131.61 L327.82,131.63" fill="none" stroke="#e02525" stroke-width="1.8"/>
<path d="M167.96,130.95 L168.28,130.92 L168.60,130.89 L168.92,130.86 L169.24,130.82 L169.56,130.79 L169.88,130.75 L170.20,130.71 L170.52,130.68 L170.84,130.64 L171.16,130.60 L171.48,130.56 L171.80,130.52 L172.12,130.47 L172.44,130.43 L172.76,130.38 L173.08,130.34 L173.40,130.29 L173.72,130.24 L174.04,130.19 L174.36,130.14 L174.68,130.09 L175.00,130.03 L175.32,129.98 L175.64,129.92 L175.96,129.86 L176.28,129.80 L176.61,129.74 L176.93,129.68 L177.25,129.62 L177.57,129.55 L177.89,129.48 L178.21,129.41 L178.53,129.34 L178.85,129.27 L179.17,129.19 L179.49,129.12 L179.81,129.04 L180.13,128.96 L180.45,128.88 L180.77,128.79 L181.09,128.71 L181.41,128.62 L181.73,128.53 L182.05,128.44 L182.37,128.35 L182.69,128.26 L183.01,128.16 L183.33,128.06 L183.65,127.97 L183.97,127.87 L184.29,127.77 L184.61,127.67 L184.93,127.57 L185.25,127.47 L185.58,127.37 L185.90,127.26 L186.22,127.16 L186.54,127.06 L186.86,126.96 L187.18,126.87 L187.50,126.77 L187.82,126.67 L188.14,126.58 L188.46,126.49 L188.78,126.40 L189.10,126.31 L189.42,126.22 L189.74,126.14 L190.06,126.06 L190.38,125.98 L190.70,125.90 L191.02,125.82 L191.34,125.75 L191.66,125.68 L191.98,125.60 L192.30,125.53 L192.62,125.46 L192.94,125.40 L193.26,125.33 L193.58,125.26 L193.90,125.19 L194.23,125.11 L194.55,125.04 L194.87,124.97 L195.19,124.89 L195.51,124.81 L195.83,124.73 L196.15,124.64 L196.47,124.55 L196.79,124.46 L197.11,124.36 L197.43,124.26 L197.75,124.15 L198.07,124.04 L198.39,123.92 L198.71,123.80 L199.03,123.67 L199.35,123.53 L199.67,123.39 L199.99,123.24 L200.31,123.09 L200.63,122.92 L200.95,122.76 L201.27,122.58 L201.59,122.39 L201.91,122.20 L202.23,122.00 L202.55,121.79 L202.87,121.57 L203.20,121.35 L203.52,121.11 L203.84,120.86 L204.16,120.61 L204.48,120.34 L204.80,120.07 L205.12,119.78 L205.44,119.49 L205.76,119.18 L206.08,118.86 L206.40,118.53 L206.72,118.19 L207.04,117.84 L207.36,117.48 L207.68,117.10 L208.00,116.72 L208.32,116.32 L208.64,115.91 L208.96,115.48 L209.28,115.05 L209.60,114.61 L209.92,114.15 L210.24,113.69 L210.56,113.21 L210.88,112.73 L211.20,112.23 L211.52,111.73 L211.85,111.22 L212.17,110.71 L212.49,110.20 L212.81,109.68 L213.13,109.16 L213.45,108.64 L213.77,108.13 L214.09,107.62 L214.41,107.12 L214.73,106.62 L215.05,106.15 L215.37,105.68 L215.69,105.24 L216.01,104.81 L216.33,104.41 L216.65,104.03 L216.97,103.69 L217.29,103.37 L217.61,103.08 L217.93,102.83 L218.25,102.61 L218.57,102.43 L218.89,102.28 L219.21,102.17 L219.53,102.10 L219.85,102.06 L220.17,102.06 L220.50,102.09 L220.82,102.16 L221.14,102.25 L221.46,102.37 L221.78,102.52 L222.10,102.69 L222.42,102.89 L222.74,103.10 L223.06,103.32 L223.38,103.55 L223.70,103.80 L224.02,104.05 L224.34,104.30 L224.66,104.56 L224.98,104.81 L225.30,105.06 L225.62,105.31 L225.94,105.55 L226.26,105.77 L226.58,105.99 L226.90,106.20 L227.22,106.39 L227.54,106.57 L227.86,106.73 L228.18,106.87 L228.50,107.00 L228.82,107.10 L229.14,107.19 L229.47,107.26 L229.79,107.31 L230.11,107.34 L230.43,107.34 L230.75,107.33 L231.07,107.29 L231.39,107.23 L231.71,107.15 L232.03,107.04 L232.35,106.91 L232.67,106.76 L232.99,106.59 L233.31,106.39 L233.63,106.16 L233.95,105.92 L234.27,105.64 L234.59,105.35 L234.91,105.02 L235.23,104.68 L235.55,104.31 L235.87,103.91 L236.19,103.49 L236.51,103.04 L236.83,102.57 L237.15,102.07 L237.47,101.55 L237.79,101.00 L238.12,100.43 L238.44,99.84 L238.76,99.23 L239.08,98.59 L239.40,97.93 L239.72,97.26 L240.04,96.56 L240.36,95.85 L240.68,95.13 L241.00,94.40 L241.32,93.65 L241.64,92.90 L241.96,92.15 L242.28,91.39 L242.60,90.64 L242.92,89.90 L243.24,89.17 L243.56,88.45 L243.88,87.76 L244.20,87.09 L244.52,86.46 L244.84,85.85 L245.16,85.29 L245.48,84.78 L245.80,84.31 L246.12,83.90 L246.44,83.55 L246.77,83.25 L247.09,83.03 L247.41,82.86 L247.73,82.77 L248.05,82.75 L248.37,82.79 L248.69,82.90 L249.01,83.09 L249.33,83.33 L249.65,83.64 L249.97,84.01 L250.29,84.44 L250.61,84.92 L250.93,85.45 L251.25,86.02 L251.57,86.64 L251.89,87.28 L252.21,87.96 L252.53,88.66 L252.85,89.38 L253.17,90.11 L253.49,90.86 L253.81,91.61 L254.13,92.36 L254.45,93.12 L254.77,93.87 L255.09,94.61 L255.41,95.34 L255.74,96.06 L256.06,96.77 L256.38,97.46 L256.70,98.13 L257.02,98.78 L257.34,99.41 L257.66,100.02 L257.98,100.60 L258.30,101.16 L258.62,101.70 L258.94,102.22 L259.26,102.71 L259.58,103.17 L259.90,103.61 L260.22,104.03 L260.54,104.42 L260.86,104.78 L261.18,105.12 L261.50,105.43 L261.82,105.72 L262.14,105.99 L262.46,106.23 L262.78,106.45 L263.10,106.64 L263.42,106.81 L263.74,106.95 L264.06,107.07 L264.39,107.17 L264.71,107.25 L265.03,107.30 L265.35,107.33 L265.67,107.34 L265.99,107.33 L266.31,107.30 L266.63,107.24 L266.95,107.17 L267.27,107.07 L267.59,106.96 L267.91,106.83 L268.23,106.68 L268.55,106.52 L268.87,106.33 L269.19,106.14 L269.51,105.93 L269.83,105.71 L270.15,105.48 L270.47,105.24 L270.79,104.99 L271.11,104.74 L271.43,104.48 L271.75,104.23 L272.07,103.98 L272.39,103.73 L272.71,103.48 L273.03,103.25 L273.36,103.03 L273.68,102.83 L274.00,102.64 L274.32,102.48 L274.64,102.34 L274.96,102.22 L275.28,102.14 L275.60,102.08 L275.92,102.06 L276.24,102.07 L276.56,102.12 L276.88,102.20 L277.20,102.32 L277.52,102.48 L277.84,102.67 L278.16,102.90 L278.48,103.16 L278.80,103.46 L279.12,103.78 L279.44,104.14 L279.76,104.52 L280.08,104.93 L280.40,105.36 L280.72,105.82 L281.04,106.28 L281.36,106.77 L281.68,107.26 L282.01,107.76 L282.33,108.27 L282.65,108.79 L282.97,109.31 L283.29,109.83 L283.61,110.35 L283.93,110.86 L284.25,111.37 L284.57,111.88 L284.89,112.38 L285.21,112.87 L285.53,113.35 L285.85,113.82 L286.17,114.28 L286.49,114.74 L286.81,115.18 L287.13,115.61 L287.45,116.03 L287.77,116.43 L288.09,116.83 L288.41,117.21 L288.73,117.58 L289.05,117.94 L289.37,118.29 L289.69,118.63 L290.01,118.96 L290.33,119.27 L290.66,119.57 L290.98,119.87 L291.30,120.15 L291.62,120.42 L291.94,120.68 L292.26,120.94 L292.58,121.18 L292.90,121.41 L293.22,121.64 L293.54,121.85 L293.86,122.06 L294.18,122.26 L294.50,122.45 L294.82,122.63 L295.14,122.81 L295.46,122.97 L295.78,123.13 L296.10,123.29 L296.42,123.43 L296.74,123.57 L297.06,123.70 L297.38,123.83 L297.70,123.95 L298.02,124.07 L298.34,124.18 L298.66,124.29 L298.98,124.39 L299.30,124.48 L299.63,124.58 L299.95,124.67 L300.27,124.75 L300.59,124.83 L300.91,124.91 L301.23,124.99 L301.55,125.06 L301.87,125.13 L302.19,125.21 L302.51,125.28 L302.83,125.35 L303.15,125.42 L303.47,125.48 L303.79,125.55 L304.11,125.63 L304.43,125.70 L304.75,125.77 L305.07,125.84 L305.39,125.92 L305.71,126.00 L306.03,126.08 L306.35,126.16 L306.67,126.25 L306.99,126.33 L307.31,126.42 L307.63,126.51 L307.95,126.61 L308.28,126.70 L308.60,126.80 L308.92,126.89 L309.24,126.99 L309.56,127.09 L309.88,127.19 L310.20,127.29 L310.52,127.39 L310.84,127.50 L311.16,127.60 L311.48,127.70 L311.80,127.80 L312.12,127.90 L312.44,128.00 L312.76,128.09 L313.08,128.19 L313.40,128.28 L313.72,128.38 L314.04,128.47 L314.36,128.56 L314.68,128.65 L315.00,128.73 L315.32,128.82 L315.64,128.90 L315.96,128.98 L316.28,129.06 L316.60,129.14 L316.92,129.22 L317.25,129.29 L317.57,129.36 L317.89,129.43 L318.21,129.50 L318.53,129.57 L318.85,129.63 L319.17,129.70 L319.49,129.76 L319.81,129.82 L320.13,129.88 L320.45,129.94 L320.77,130.00 L321.09,130.05 L321.41,130.10 L321.73,130.16 L322.05,130.21 L322.37,130.26 L322.69,130.30 L323.01,130.35 L323.33,130.40 L323.65,130.44 L323.97,130.48 L324.29,130.53 L324.61,130.57 L324.93,130.61 L325.25,130.65 L325.57,130.69 L325.90,130.72 L326.22,130.76 L326.54,130.80 L326.86,130.83 L327.18,130.87 L327.50,130.90 L327.82,130.93" fill="none" stroke="#3343b0" stroke-width="1.8"/>
<line x1="188" y1="54.6" x2="198.6" y2="54.6" stroke="#7b1e98" stroke-width="2"/>
<line x1="188" y1="68.1" x2="198.6" y2="68.1" stroke="#e02525" stroke-width="2"/>
<line x1="188" y1="81.6" x2="198.6" y2="81.6" stroke="#3343b0" stroke-width="2"/>
<rect x="405.3" y="10.2" width="252.3" height="203.20000000000002" fill="none" stroke="#3a3a3a" stroke-width="0.9"/>
<line x1="402.7" y1="213.40" x2="405.3" y2="213.40" stroke="#3a3a3a" stroke-width="0.9"/>
<line x1="402.7" y1="176.54" x2="405.3" y2="176.54" stroke="#3a3a3a" stroke-width="0.9"/>
<line x1="402.7" y1="139.68" x2="405.3" y2="139.68" stroke="#3a3a3a" stroke-width="0.9"/>
<line x1="402.7" y1="102.82" x2="405.3" y2="102.82" stroke="#3a3a3a" stroke-width="0.9"/>
<line x1="402.7" y1="65.96" x2="405.3" y2="65.96" stroke="#3a3a3a" stroke-width="0.9"/>
<line x1="402.7" y1="29.10" x2="405.3" y2="29.10" stroke="#3a3a3a" stroke-width="0.9"/>
<line x1="409.40" y1="213.4" x2="409.40" y2="216.0" stroke="#3a3a3a" stroke-width="0.9"/>
<line x1="446.40" y1="213.4" x2="446.40" y2="216.0" stroke="#3a3a3a" stroke-width="0.9"/>
<line x1="483.40" y1="213.4" x2="483.40" y2="216.0" stroke="#3a3a3a" stroke-width="0.9"/>
<line x1="520.40" y1="213.4" x2="520.40" y2="216.0" stroke="#3a3a3a" stroke-width="0.9"/>
<line x1="557.40" y1="213.4" x2="557.40" y2="216.0" stroke="#3a3a3a" stroke-width="0.9"/>
<line x1="594.40" y1="213.4" x2="594.40" y2="216.0" stroke="#3a3a3a" stroke-width="0.9"/>
<line x1="631.40" y1="213.4" x2="631.40" y2="216.0" stroke="#3a3a3a" stroke-width="0.9"/>
<path d="M416.80,154.90 V162.70 M413.90,154.90 H419.70 M413.90,162.70 H419.70" stroke="#828282" stroke-width="1" fill="none"/>
<circle cx="416.80" cy="158.80" r="2.6" fill="#1e78be"/>
<path d="M424.20,81.40 V89.20 M421.30,81.40 H427.10 M421.30,89.20 H427.10" stroke="#828282" stroke-width="1" fill="none"/>
<circle cx="424.20" cy="85.30" r="2.6" fill="#1e78be"/>
<path d="M431.60,77.30 V85.10 M428.70,77.30 H434.50 M428.70,85.10 H434.50" stroke="#828282" stroke-width="1" fill="none"/>
<circle cx="431.60" cy="81.20" r="2.6" fill="#1e78be"/>
<path d="M439.00,69.30 V77.10 M436.10,69.30 H441.90 M436.10,77.10 H441.90" stroke="#828282" stroke-width="1" fill="none"/>
<circle cx="439.00" cy="73.20" r="2.6" fill="#1e78be"/>
<path d="M446.40,89.70 V97.50 M443.50,89.70 H449.30 M443.50,97.50 H449.30" stroke="#828282" stroke-width="1" fill="none"/>
<circle cx="446.40" cy="93.60" r="2.6" fill="#1e78be"/>
<path d="M453.80,61.20 V69.00 M450.90,61.20 H456.70 M450.90,69.00 H456.70" stroke="#828282" stroke-width="1" fill="none"/>
<circle cx="453.80" cy="65.10" r="2.6" fill="#1e78be"/>
<path d="M461.20,64.80 V72.60 M458.30,64.80 H464.10 M458.30,72.60 H464.10" stroke="#828282" stroke-width="1" fill="none"/>
<circle cx="461.20" cy="68.70" r="2.6" fill="#1e78be"/>
<path d="M468.60,57.70 V65.50 M465.70,57.70 H471.50 M465.70,65.50 H471.50" stroke="#828282" stroke-width="1" fill="none"/>
<circle cx="468.60" cy="61.60" r="2.6" fill="#1e78be"/>
<path d="M476.00,49.70 V57.50 M473.10,49.70 H478.90 M473.10,57.50 H478.90" stroke="#828282" stroke-width="1" fill="none"/>
<circle cx="476.00" cy="53.60" r="2.6" fill="#1e78be"/>
<path d="M483.40,55.20 V63.00 M480.50,55.20 H486.30 M480.50,63.00 H486.30" stroke="#828282" stroke-width="1" fill="none"/>
<circle cx="483.40" cy="59.10" r="2.6" fill="#1e78be"/>
<path d="M490.80,56.50 V64.30 M487.90,56.50 H493.70 M487.90,64.30 H493.70" stroke="#828282" stroke-width="1" fill="none"/>
<circle cx="490.80" cy="60.40" r="2.6" fill="#1e78be"/>
<path d="M498.20,55.30 V63.10 M495.30,55.30 H501.10 M495.30,63.10 H501.10" stroke="#828282" stroke-width="1" fill="none"/>
<circle cx="498.20" cy="59.20" r="2.6" fill="#1e78be"/>
<path d="M505.60,34.30 V42.10 M502.70,34.30 H508.50 M502.70,42.10 H508.50" stroke="#828282" stroke-width="1" fill="none"/>
<circle cx="505.60" cy="38.20" r="2.6" fill="#1e78be"/>
<path d="M513.00,45.70 V53.50 M510.10,45.70 H515.90 M510.10,53.50 H515.90" stroke="#828282" stroke-width="1" fill="none"/>
<circle cx="513.00" cy="49.60" r="2.6" fill="#1e78be"/>
<path d="M520.40,54.60 V62.40 M517.50,54.60 H523.30 M517.50,62.40 H523.30" stroke="#828282" stroke-width="1" fill="none"/>
<circle cx="520.40" cy="58.50" r="2.6" fill="#1e78be"/>
<path d="M527.80,57.70 V65.50 M524.90,57.70 H530.70 M524.90,65.50 H530.70" stroke="#828282" stroke-width="1" fill="none"/>
<circle cx="527.80" cy="61.60" r="2.6" fill="#1e78be"/>
<path d="M535.20,62.50 V70.30 M532.30,62.50 H538.10 M532.30,70.30 H538.10" stroke="#828282" stroke-width="1" fill="none"/>
<circle cx="535.20" cy="66.40" r="2.6" fill="#1e78be"/>
<path d="M542.60,64.80 V72.60 M539.70,64.80 H545.50 M539.70,72.60 H545.50" stroke="#828282" stroke-width="1" fill="none"/>
<circle cx="542.60" cy="68.70" r="2.6" fill="#1e78be"/>
<path d="M550.00,66.70 V74.50 M547.10,66.70 H552.90 M547.10,74.50 H552.90" stroke="#828282" stroke-width="1" fill="none"/>
<circle cx="550.00" cy="70.60" r="2.6" fill="#1e78be"/>
<path d="M557.40,42.10 V49.90 M554.50,42.10 H560.30 M554.50,49.90 H560.30" stroke="#828282" stroke-width="1" fill="none"/>
<circle cx="557.40" cy="46.00" r="2.6" fill="#1e78be"/>
<path d="M564.80,50.60 V58.40 M561.90,50.60 H567.70 M561.90,58.40 H567.70" stroke="#828282" stroke-width="1" fill="none"/>
<circle cx="564.80" cy="54.50" r="2.6" fill="#1e78be"/>
<path d="M572.20,69.30 V77.10 M569.30,69.30 H575.10 M569.30,77.10 H575.10" stroke="#828282" stroke-width="1" fill="none"/>
<circle cx="572.20" cy="73.20" r="2.6" fill="#1e78be"/>
<path d="M579.60,46.10 V53.90 M576.70,46.10 H582.50 M576.70,53.90 H582.50" stroke="#828282" stroke-width="1" fill="none"/>
<circle cx="579.60" cy="50.00" r="2.6" fill="#1e78be"/>
<path d="M587.00,42.20 V50.00 M584.10,42.20 H589.90 M584.10,50.00 H589.90" stroke="#828282" stroke-width="1" fill="none"/>
<circle cx="587.00" cy="46.10" r="2.6" fill="#1e78be"/>
<path d="M594.40,68.40 V76.20 M591.50,68.40 H597.30 M591.50,76.20 H597.30" stroke="#828282" stroke-width="1" fill="none"/>
<circle cx="594.40" cy="72.30" r="2.6" fill="#1e78be"/>
<path d="M601.80,50.30 V58.10 M598.90,50.30 H604.70 M598.90,58.10 H604.70" stroke="#828282" stroke-width="1" fill="none"/>
<circle cx="601.80" cy="54.20" r="2.6" fill="#1e78be"/>
<path d="M609.20,43.20 V51.00 M606.30,43.20 H612.10 M606.30,51.00 H612.10" stroke="#828282" stroke-width="1" fill="none"/>
<circle cx="609.20" cy="47.10" r="2.6" fill="#1e78be"/>
<path d="M616.60,62.00 V69.80 M613.70,62.00 H619.50 M613.70,69.80 H619.50" stroke="#828282" stroke-width="1" fill="none"/>
<circle cx="616.60" cy="65.90" r="2.6" fill="#1e78be"/>
<path d="M624.00,59.50 V67.30 M621.10,59.50 H626.90 M621.10,67.30 H626.90" stroke="#828282" stroke-width="1" fill="none"/>
<circle cx="624.00" cy="63.40" r="2.6" fill="#1e78be"/>
<path d="M631.40,59.50 V67.30 M628.50,59.50 H634.30 M628.50,67.30 H634.30" stroke="#828282" stroke-width="1" fill="none"/>
<circle cx="631.40" cy="63.40" r="2.6" fill="#1e78be"/>
<path d="M638.80,49.80 V57.60 M635.90,49.80 H641.70 M635.90,57.60 H641.70" stroke="#828282" stroke-width="1" fill="none"/>
<circle cx="638.80" cy="53.70" r="2.6" fill="#1e78be"/>
<path d="M646.20,55.20 V63.00 M643.30,55.20 H649.10 M643.30,63.00 H649.10" stroke="#828282" stroke-width="1" fill="none"/>
<circle cx="646.20" cy="59.10" r="2.6" fill="#1e78be"/>
<rect x="405.3" y="54.3" width="252.3" height="10.0" fill="#e6e2f8" style="mix-blend-mode:multiply"/>
<rect x="405.3" y="154.1" width="252.3" height="9.7" fill="#fde2e7" style="mix-blend-mode:multiply"/>
<line x1="500.70" y1="113.10" x2="445.94" y2="76.50" stroke="#222" stroke-width="0.9"/><path d="M442.20,74.00 L446.83,75.17 L445.05,77.83 Z" fill="#222"/>
<line x1="500.70" y1="113.10" x2="475.44" y2="69.10" stroke="#222" stroke-width="0.9"/><path d="M473.20,65.20 L476.83,68.31 L474.05,69.90 Z" fill="#222"/>
<line x1="500.70" y1="113.10" x2="518.77" y2="66.69" stroke="#222" stroke-width="0.9"/><path d="M520.40,62.50 L520.26,67.27 L517.28,66.11 Z" fill="#222"/>
<path d="M629.8,115.8 L639.3,102.2 C641.3,99.2 642.1,96.5 642.5,92.5 L644.75,71" fill="none" stroke="#222" stroke-width="1.05"/>
<path d="M645.4,65.6 L643.2,71.2 L646.4,71.5 Z" fill="#222"/>
<path d="M436.3,191.8 L423.2,184.2 C419.6,182 417.9,179.8 417.6,175.5 L417.0,169.5" fill="none" stroke="#222" stroke-width="1.05"/>
<path d="M416.8,164.9 L415.2,170 L418.6,170 Z" fill="#222"/>
<path d="M666.6,58.7 V160.3 M662,58.7 H671.9 M662,160.3 H671.9" stroke="#333" stroke-width="1.6" fill="none"/>
<text transform="translate(5.20,15.15) scale(0.9389,1)" font-size="16.8" fill="#000">(a)</text>
<text transform="translate(26.46,16.18) scale(0.8350,1)" font-size="16.8" fill="#000" stroke="#000" stroke-width="0.25">1.0</text>
<text transform="translate(25.80,57.10) scale(0.8286,1)" font-size="16.8" fill="#000" stroke="#000" stroke-width="0.25">0.8</text>
<text transform="translate(25.80,97.72) scale(0.8286,1)" font-size="16.8" fill="#000" stroke="#000" stroke-width="0.25">0.6</text>
<text transform="translate(25.80,138.34) scale(0.8286,1)" font-size="16.8" fill="#000" stroke="#000" stroke-width="0.25">0.4</text>
<text transform="translate(25.80,178.96) scale(0.8700,1)" font-size="16.8" fill="#000" stroke="#000" stroke-width="0.25">0.2</text>
<text transform="translate(49.60,230.55) scale(0.8250,1)" font-size="16.8" fill="#000" stroke="#000" stroke-width="0.25">0</text>
<text transform="translate(104.51,230.55) scale(0.8250,1)" font-size="16.8" fill="#000" stroke="#000" stroke-width="0.25">1</text>
<text transform="translate(160.24,230.55) scale(0.8250,1)" font-size="16.8" fill="#000" stroke="#000" stroke-width="0.25">2</text>
<text transform="translate(215.15,230.55) scale(0.8250,1)" font-size="16.8" fill="#000" stroke="#000" stroke-width="0.25">3</text>
<text transform="translate(270.47,230.55) scale(0.8250,1)" font-size="16.8" fill="#000" stroke="#000" stroke-width="0.25">4</text>
<text transform="translate(325.79,230.55) scale(0.8250,1)" font-size="16.8" fill="#000" stroke="#000" stroke-width="0.25">5</text>
<text transform="translate(13.00,145.50) rotate(-90) scale(1.0340,1)" font-size="15.3" fill="#000">Excited State <tspan font-style="italic">P</tspan></text>
<text transform="translate(89.32,249.50) scale(1.1833,1)" font-size="15.3" fill="#000">β</text>
<text transform="translate(103.52,249.60) scale(0.9842,1)" font-size="15.3" fill="#000">[Micromotion Amplitude]</text>
<text transform="translate(67.95,31.10) rotate(90) scale(0.8667,1)" font-size="12" fill="#000" stroke="#000" stroke-width="0.25">δ=0</text>
<text transform="translate(67.15,98.50) rotate(90) scale(0.8629,1)" font-size="12" fill="#000" stroke="#000" stroke-width="0.25">δ=−7.8 MHz</text>
<text transform="translate(58.00,179.70) rotate(90) scale(0.9273,1)" font-size="10.5" fill="#000" stroke="#000" stroke-width="0.25">β = 0</text>
<text transform="translate(96.80,179.70) rotate(90) scale(0.9111,1)" font-size="10.5" fill="#000" stroke="#000" stroke-width="0.25">β =0.7</text>
<text transform="translate(124.25,179.70) rotate(90) scale(0.9111,1)" font-size="10.5" fill="#000" stroke="#000" stroke-width="0.25">β =1.2</text>
<text transform="translate(174.90,16.55) scale(0.8800,1)" font-size="11.5" fill="#000" stroke="#000" stroke-width="0.25">-60</text>
<text transform="translate(198.00,16.55) scale(0.8333,1)" font-size="11.5" fill="#000" stroke="#000" stroke-width="0.25">-40</text>
<text transform="translate(220.20,16.55) scale(0.8467,1)" font-size="11.5" fill="#000" stroke="#000" stroke-width="0.25">-20</text>
<text transform="translate(246.90,16.55) scale(0.6833,1)" font-size="11.5" fill="#000" stroke="#000" stroke-width="0.25">0</text>
<text transform="translate(267.70,16.55) scale(0.8545,1)" font-size="11.5" fill="#000" stroke="#000" stroke-width="0.25">20</text>
<text transform="translate(290.60,16.55) scale(0.7273,1)" font-size="11.5" fill="#000" stroke="#000" stroke-width="0.25">40</text>
<text transform="translate(313.10,16.55) scale(0.7909,1)" font-size="11.5" fill="#000" stroke="#000" stroke-width="0.25">60</text>
<text transform="translate(189.06,32.80) scale(0.8436,1)" font-size="12.7" fill="#000" stroke="#000" stroke-width="0.25">Heating</text>
<text transform="translate(265.90,33.30) scale(0.8366,1)" font-size="12.7" fill="#000" stroke="#000" stroke-width="0.25">Cooling</text>
<text transform="translate(153.23,37.25) scale(0.6733,1)" font-size="12.5" fill="#000" stroke="#000" stroke-width="0.25">1.0</text>
<text transform="translate(153.40,57.01) scale(0.6625,1)" font-size="12.5" fill="#000" stroke="#000" stroke-width="0.25">0.8</text>
<text transform="translate(153.40,76.77) scale(0.6625,1)" font-size="12.5" fill="#000" stroke="#000" stroke-width="0.25">0.6</text>
<text transform="translate(153.40,96.53) scale(0.6625,1)" font-size="12.5" fill="#000" stroke="#000" stroke-width="0.25">0.4</text>
<text transform="translate(153.40,116.29) scale(0.7067,1)" font-size="12.5" fill="#000" stroke="#000" stroke-width="0.25">0.2</text>
<text transform="translate(153.40,136.05) scale(0.6625,1)" font-size="12.5" fill="#000" stroke="#000" stroke-width="0.25">0.0</text>
<text transform="translate(185.70,150.45) scale(0.7214,1)" font-size="11.5" fill="#000" stroke="#000" stroke-width="0.25">-51</text>
<text transform="translate(212.40,150.45) scale(0.6917,1)" font-size="11.5" fill="#000" stroke="#000" stroke-width="0.25">-25.5</text>
<text transform="translate(245.50,150.45) scale(0.8167,1)" font-size="11.5" fill="#000" stroke="#000" stroke-width="0.25">0</text>
<text transform="translate(271.00,150.45) scale(0.7250,1)" font-size="11.5" fill="#000" stroke="#000" stroke-width="0.25">25.5</text>
<text transform="translate(301.90,150.45) scale(0.6909,1)" font-size="11.5" fill="#000" stroke="#000" stroke-width="0.25">51</text>
<text transform="translate(225.80,164.10) scale(0.8571,1)" font-size="12.5" fill="#000" stroke="#000" stroke-width="0.25">δ [MHz]</text>
<text transform="translate(143.20,118.00) rotate(-90) scale(1.0309,1)" font-size="11" fill="#000" stroke="#000" stroke-width="0.25">Excited State <tspan font-style="italic">P</tspan></text>
<text transform="translate(201.50,56.85) scale(0.7800,1)" font-size="12.3" fill="#000" stroke="#000" stroke-width="0.25">β = 0</text>
<text transform="translate(201.50,70.35) scale(0.7486,1)" font-size="12.3" fill="#000" stroke="#000" stroke-width="0.25">β = 0.7</text>
<text transform="translate(201.50,83.85) scale(0.7706,1)" font-size="12.3" fill="#000" stroke="#000" stroke-width="0.25">β = 1.2</text>
<text transform="translate(350.80,14.95) scale(1.0333,1)" font-size="16" fill="#000">(b)</text>
<text transform="translate(383.20,218.30) scale(0.8750,1)" font-size="15.8" fill="#000">20</text>
<text transform="translate(383.20,181.44) scale(0.8750,1)" font-size="15.8" fill="#000">30</text>
<text transform="translate(383.20,144.58) scale(0.8750,1)" font-size="15.8" fill="#000">40</text>
<text transform="translate(382.27,107.72) scale(0.9333,1)" font-size="15.8" fill="#000">50</text>
<text transform="translate(383.20,70.86) scale(0.8750,1)" font-size="15.8" fill="#000">60</text>
<text transform="translate(382.27,34.00) scale(0.9333,1)" font-size="15.8" fill="#000">70</text>
<text transform="translate(405.97,231.55) scale(0.9333,1)" font-size="15.8" fill="#000">0</text>
<text transform="translate(442.50,231.55) scale(0.9333,1)" font-size="15.8" fill="#000">5</text>
<text transform="translate(475.77,231.55) scale(0.9333,1)" font-size="15.8" fill="#000">10</text>
<text transform="translate(512.77,231.55) scale(0.9333,1)" font-size="15.8" fill="#000">15</text>
<text transform="translate(550.23,231.55) scale(0.9333,1)" font-size="15.8" fill="#000">20</text>
<text transform="translate(587.23,231.55) scale(0.9333,1)" font-size="15.8" fill="#000">25</text>
<text transform="translate(624.23,231.55) scale(0.9333,1)" font-size="15.8" fill="#000">30</text>
<text transform="translate(363.85,199.40) rotate(-90) scale(1.1041,1)" font-size="14.5" fill="#000">Photon Count (kcounts/s)</text>
<text transform="translate(474.30,252.60) scale(0.9936,1)" font-size="15.8" fill="#000">Iteration Number</text>
<text transform="translate(418.20,126.60) scale(1.0048,1)" font-size="13" fill="#000">Photon count from different</text>
<text transform="translate(418.19,143.00) scale(1.0131,1)" font-size="13" fill="#000">DC values found by ADAM</text>
<text transform="translate(583.09,126.60) scale(1.0091,1)" font-size="13" fill="#000">Final Photon</text>
<text transform="translate(584.10,143.00) scale(0.9719,1)" font-size="13" fill="#000">Count</text>
<text transform="translate(437.89,195.60) scale(1.0133,1)" font-size="13" fill="#000">Initial Photon Count</text>
<text transform="translate(680.25,121.26) rotate(-90) scale(0.9575,1)" font-size="15.5" fill="#000">+78 %</text>
</svg></body></html>
